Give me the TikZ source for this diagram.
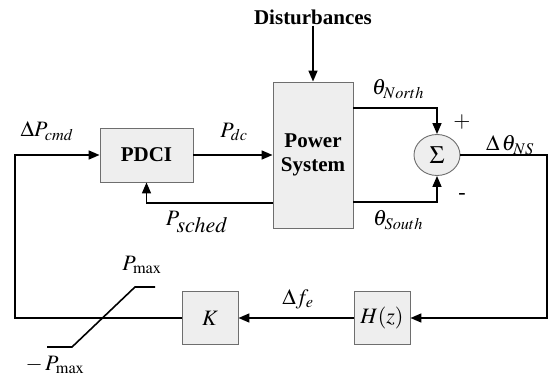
\documentclass[tikz,border=0pt]{standalone}
\usepackage{mathptmx}
\usepackage{fontspec}
\setmainfont{Liberation Serif}
\usetikzlibrary{arrows.meta,positioning,shapes.geometric}
\definecolor{boxfill}{RGB}{238,238,238}
\definecolor{boxedge}{RGB}{110,110,110}

\tikzset{
  block/.style={draw=boxedge, fill=boxfill, line width=0.9pt, inner sep=0pt},
  sig/.style={line width=1.6pt, -{Triangle[length=11pt,width=9pt]}},
  wire/.style={line width=1.6pt},
  lbl/.style={font=\fontsize{22}{24}\selectfont, inner sep=1pt},
  bold/.style={font=\fontsize{21}{23.5}\selectfont\bfseries}
}

\begin{document}
\begin{tikzpicture}[x=1pt, y=-1pt, lbl]
  \useasboundingbox (0,0) rectangle (551,382);

  % blocks
  \node[block, bold, minimum width=93pt, minimum height=54pt] (pdci) at (146.5,155) {PDCI};
  \node[block, bold, minimum width=80pt, minimum height=146pt, align=center] (psys) at (313,155) {Power\\System};
  \node[block, ellipse, minimum width=46pt, minimum height=41pt, font=\fontsize{25}{27}\selectfont] (sum) at (437,155) {$\Sigma$};
  \node[block, minimum width=56pt, minimum height=53pt] (hz) at (382,318) {$H(z)$};
  \node[block, minimum width=56pt, minimum height=53pt] (kgain) at (210,318) {$K$};
  \node[bold] (dist) at (313,17) {Disturbances};

  % helper points
  \coordinate (ltop) at (15,155);
  \coordinate (lbot) at (15,318);
  \coordinate (rtop) at (547,155);
  \coordinate (schedy) at (0,203);
  \coordinate (northy) at (0,108);
  \coordinate (southy) at (0,202);

  % connectors
  \draw[sig] (dist.south) -- (psys.north);
  \draw[sig] (pdci.east) -- (psys.west);
  \draw[sig] (psys.west |- schedy) -| (pdci.south);
  \draw[sig] (psys.east |- northy) -| (sum.north);
  \draw[sig] (psys.east |- southy) -| (sum.south);
  \draw[sig] (sum.east) -- (rtop) |- (hz.east);
  \draw[sig] (hz.west) -- (kgain.east);
  \draw[sig] (kgain.west) -- (lbot) -- (ltop) -- (pdci.west);

  % limiter
  \draw[wire] (47,347) -- (72,347) -- (135,287) -- (155,287);

  % labels
  \node at (47,131) {$\Delta P_{cmd}$};
  \node at (234,132) {$P_{dc}$};
  \node at (197,222) {$P_{\textstyle sched}$};
  \node at (398,89) {$\theta_{North}$};
  \node at (398,220) {$\theta_{South}$};
  \node at (462,122) {$+$};
  \node at (462,196) {-};
  \node at (510,145) {$\Delta\,\theta_{NS}$};
  \node at (298,299) {$\Delta f_e$};
  \node at (142,265) {$P_{\max}$};
  \node at (55,365) {$-\,P_{\max}$};
\end{tikzpicture}
\end{document}
